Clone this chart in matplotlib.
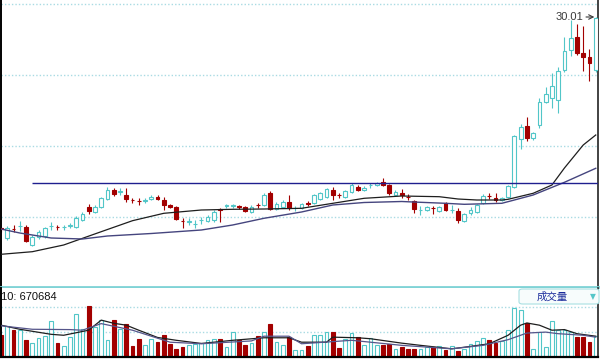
# plot.py
#
# Daily candlestick chart with moving averages and a volume panel
# (white background terminal style).

import matplotlib.pyplot as plt
from matplotlib.patches import FancyBboxPatch
import numpy as np


plt.rcParams.update({
    "font.family": ["Liberation Sans", "DejaVu Sans"],
    "font.size": 8,
    "figure.dpi": 100,
})

# --- price data (one entry per trading day) ---
opens = [8.83, 7.88, 8.83, 9.10, 9.04, 7.26, 7.98, 8.11, 9.09, 8.99,
         8.97, 9.13, 9.04, 9.71, 11.04, 10.54, 11.01, 11.81, 12.71, 12.52,
         12.21, 11.72, 11.62, 11.63, 11.78, 12.04, 11.71, 11.21, 11.04, 9.62,
         9.53, 9.30, 9.70, 9.61, 9.71, 10.77, 11.12, 11.12, 11.05, 10.99,
         10.51, 11.22, 11.21, 12.46, 10.86, 11.06, 11.54, 10.87, 10.88, 11.37,
         11.38, 11.81, 12.04, 12.71, 12.19, 12.04, 12.54, 13.04, 12.68, 13.17,
         13.18, 13.51, 13.18, 12.25, 12.46, 12.02, 11.61, 10.70, 10.74, 10.89,
         10.61, 11.41, 10.70, 10.66, 9.64, 10.38, 10.49, 11.38, 12.09, 11.91,
         11.71, 12.01, 13.04, 17.78, 19.11, 17.88, 19.21, 21.54, 21.88, 21.71,
         24.71, 26.71, 27.98, 26.44, 25.98, 24.71]
closes = [8.81, 8.88, 8.80, 9.12, 7.64, 8.04, 8.54, 8.88, 9.11, 8.97,
          8.99, 9.15, 9.91, 10.31, 10.61, 11.04, 11.91, 12.71, 12.31, 12.54,
          11.81, 11.70, 11.60, 11.65, 12.04, 11.78, 11.21, 10.98, 9.81, 9.60,
          9.55, 9.32, 9.72, 10.04, 10.56, 10.75, 11.14, 11.14, 11.03, 10.61,
          11.06, 11.20, 12.26, 10.86, 11.36, 11.56, 10.88, 10.89, 11.31, 11.35,
          12.21, 12.38, 12.81, 12.21, 12.17, 12.58, 13.26, 12.74, 12.96, 13.19,
          13.41, 13.21, 12.38, 12.56, 12.21, 12.00, 10.81, 10.72, 11.01, 10.87,
          11.01, 10.71, 10.72, 9.71, 10.34, 10.71, 11.26, 12.16, 12.07, 11.68,
          11.96, 13.11, 18.11, 18.98, 17.88, 18.38, 21.54, 22.28, 23.11, 24.64,
          26.64, 27.88, 26.38, 26.04, 25.38, 29.95]
highs = [9.01, 9.11, 9.21, 9.61, 9.21, 8.21, 8.71, 9.01, 9.51, 9.21,
         9.21, 9.41, 10.11, 10.51, 11.31, 11.21, 12.01, 13.01, 12.94, 12.91,
         12.91, 11.91, 11.91, 11.91, 12.21, 12.21, 12.04, 11.31, 11.11, 9.91,
         9.91, 9.71, 10.01, 10.21, 10.71, 10.96, 11.31, 11.31, 11.21, 11.11,
         11.21, 11.41, 12.41, 12.61, 11.51, 11.71, 12.21, 11.11, 11.41, 11.61,
         12.31, 12.51, 12.91, 13.01, 12.41, 12.71, 13.41, 13.21, 13.11, 13.41,
         13.51, 13.91, 13.31, 12.71, 12.81, 12.31, 11.71, 11.11, 11.11, 11.11,
         11.11, 11.51, 11.21, 10.91, 10.41, 11.01, 11.31, 12.31, 12.41, 12.41,
         12.01, 13.21, 18.21, 19.31, 19.98, 18.51, 21.88, 22.98, 24.38, 24.98,
         28.04, 29.71, 29.31, 29.11, 26.78, 30.01]
lows = [8.51, 7.71, 8.51, 8.61, 7.51, 7.11, 7.81, 7.96, 8.71, 8.71,
        8.71, 8.91, 8.91, 9.61, 10.31, 10.41, 10.91, 11.71, 12.11, 12.21,
        11.54, 11.41, 11.21, 11.41, 11.71, 11.71, 10.71, 10.91, 9.71, 8.91,
        9.21, 8.91, 9.31, 9.51, 9.51, 9.56, 10.91, 10.91, 10.81, 10.51,
        10.41, 10.91, 11.11, 10.71, 10.71, 10.96, 10.71, 10.61, 10.81, 11.11,
        11.31, 11.71, 11.91, 11.71, 11.91, 11.91, 12.41, 12.61, 12.61, 12.91,
        13.11, 13.11, 12.21, 12.11, 11.91, 11.71, 10.41, 10.21, 10.61, 10.31,
        10.51, 10.61, 10.41, 9.44, 9.51, 10.21, 10.41, 11.31, 11.81, 11.51,
        11.61, 11.91, 12.91, 16.78, 17.64, 17.71, 18.88, 21.44, 20.88, 20.44,
        24.54, 26.11, 26.21, 24.64, 23.64, 24.54]

# volume, in units of 10,000 shares
volumes = [69, 98, 85, 85, 53, 44, 61, 66, 114, 44,
           34, 63, 138, 90, 162, 95, 119, 53, 119, 90,
           106, 34, 58, 37, 58, 47, 71, 42, 26, 31,
           37, 42, 44, 55, 58, 58, 31, 79, 53, 37,
           44, 66, 79, 104, 47, 37, 63, 23, 23, 34,
           69, 69, 79, 79, 28, 58, 76, 63, 37, 61,
           37, 37, 40, 26, 31, 24, 24, 26, 31, 31,
           34, 21, 34, 19, 26, 42, 50, 60, 53, 44,
           50, 87, 154, 149, 108, 26, 79, 31, 115, 87,
           85, 79, 63, 63, 47, 66]

# moving averages (day index, value)
ma_fast_idx = [0, 5, 10, 16, 21, 26, 32, 37, 42, 48, 53, 58, 64, 70, 73, 76,
               80, 81, 85, 88, 90, 93, 95]
ma_fast_val = [6.28, 6.54, 7.21, 8.54, 9.64, 10.38, 10.71, 10.78, 10.81, 10.88,
               11.38, 11.88, 12.11, 12.04, 11.81, 11.71, 11.71, 11.78, 12.38,
               13.21, 14.91, 17.21, 18.21]
ma_slow_idx = [0, 3, 8, 13, 17, 24, 32, 37, 42, 48, 53, 58, 64, 67, 71, 74, 80,
               82, 85, 90, 95]
ma_slow_val = [8.81, 8.41, 7.91, 7.81, 8.11, 8.36, 8.71, 9.21, 9.88, 10.51, 11.21,
               11.46, 11.56, 11.48, 11.38, 11.28, 11.38, 11.71, 12.21, 13.48, 14.88]

vma_a_idx = [0, 3, 8, 10, 14, 16, 18, 20, 22, 25, 28, 32, 37, 42, 46, 48, 52,
             53, 57, 59, 64, 67, 72, 74, 78, 81, 83, 84, 86, 88, 90, 92, 95]
vma_a_val = [101, 88, 72, 69, 85, 117, 107, 101, 85, 62, 53, 43, 53, 61, 61, 47,
             47, 63, 61, 58, 44, 37, 26, 31, 42, 69, 101, 108, 101, 85, 87, 74, 66]
vma_b_idx = [0, 5, 11, 13, 16, 21, 27, 32, 40, 42, 46, 48, 56, 64, 72, 77, 81,
             84, 87, 89, 93, 95]
vma_b_val = [99, 88, 87, 85, 106, 85, 47, 42, 51, 66, 66, 42, 53, 37, 26, 37, 55,
             76, 79, 74, 69, 63]

resistance = 13.44
resistance_start = 5
price_grid = [10.06, 17.16, 24.26, 31.31]
volume_grid = [80, 160]
volume_label = "10: 670684"
panel_label = "成交量"

UP = "#52c6c8"
DOWN = "#a30000"
GRID = "#a9dbe3"
SEP = "#7fd3d6"

W, H = 600, 359
opens, closes = np.array(opens), np.array(closes)
highs, lows = np.array(highs), np.array(lows)
x = np.arange(len(opens))
is_up = closes > opens
edge = np.where(is_up, UP, DOWN)
face = np.where(is_up, "white", DOWN)

fig = plt.figure(figsize=(W / 100, H / 100), dpi=100)
ax = fig.add_axes([1 / W, 1 - 287 / H, 597 / W, 287 / H])
axv = fig.add_axes([1 / W, 1 - 357 / H, 597 / W, 69 / H])

xlim = (-0.006, 95.36)

# price panel
for lvl in price_grid:
    ax.axhline(lvl, color=GRID, lw=1, ls=(0, (1, 1.5)), zorder=0)
ax.vlines(x, lows, highs, colors=edge, lw=0.8, zorder=2)
body_lo = np.minimum(opens, closes)
body_h = np.maximum(np.abs(closes - opens), 0.06)
ax.bar(x, body_h, bottom=body_lo, width=0.6, color=face, edgecolor=edge,
       linewidth=0.8, zorder=3)
ax.plot(ma_fast_idx, ma_fast_val, color="#1e1e1e", lw=0.9, zorder=4)
ax.plot(ma_slow_idx, ma_slow_val, color="#45457e", lw=1.0, zorder=4)
ax.hlines(resistance, resistance_start, xlim[1], color="#1f1f8f", lw=1.0, zorder=4)

ax.annotate(f"{highs[-1]:.2f}", xy=(x[-1], highs[-1]), xytext=(-9, 0),
            textcoords="offset points", ha="right", va="center",
            color="#3a3a3a", fontsize=8,
            arrowprops=dict(arrowstyle="->", color="#3a3a3a", lw=0.8,
                            shrinkA=0, shrinkB=1))

ax.set_xlim(*xlim)
ax.set_ylim(3.01, 31.71)

# volume panel
for lvl in volume_grid:
    axv.axhline(lvl, color=GRID, lw=1, ls=(0, (1, 1.5)), zorder=0)
axv.bar(x, volumes, width=0.6, color=face, edgecolor=edge, linewidth=0.8, zorder=2)
axv.plot(vma_a_idx, vma_a_val, color="#1e1e1e", lw=0.9, zorder=3)
axv.plot(vma_b_idx, vma_b_val, color="#55558a", lw=0.9, zorder=3)
axv.set_xlim(*xlim)
axv.set_ylim(0, 219)

for a in (ax, axv):
    a.set_xticks([])
    a.set_yticks([])
    a.spines["top"].set_visible(False)
    a.spines["left"].set_color("black")
    a.spines["left"].set_linewidth(1.4)
    a.spines["right"].set_color("#222222")
    a.spines["right"].set_linewidth(1.2)
ax.spines["bottom"].set_color(SEP)
ax.spines["bottom"].set_linewidth(2.0)
axv.spines["bottom"].set_color("black")
axv.spines["bottom"].set_linewidth(1.6)

fig.text(1 / W, 1 - 297 / H, volume_label, ha="left", va="center",
         fontsize=8, color="#111111")

box = FancyBboxPatch((519 / W, 1 - 304 / H), 80 / W, 15 / H,
                     boxstyle="round,pad=0,rounding_size=0.006",
                     transform=fig.transFigure, facecolor="#f7fcfc",
                     edgecolor="#a8e0e2", lw=0.8)
fig.patches.append(box)
fig.text(552 / W, 1 - 296.5 / H, panel_label, ha="center", va="center",
         fontsize=7.5, color="#1a2b9c", family=["Noto Sans CJK SC", "DejaVu Sans"])
fig.text(593 / W, 1 - 297 / H, "▼", ha="center", va="center",
         fontsize=5.5, color="#55c6c8", family="DejaVu Sans")

fig.savefig("out.png", dpi=100)
